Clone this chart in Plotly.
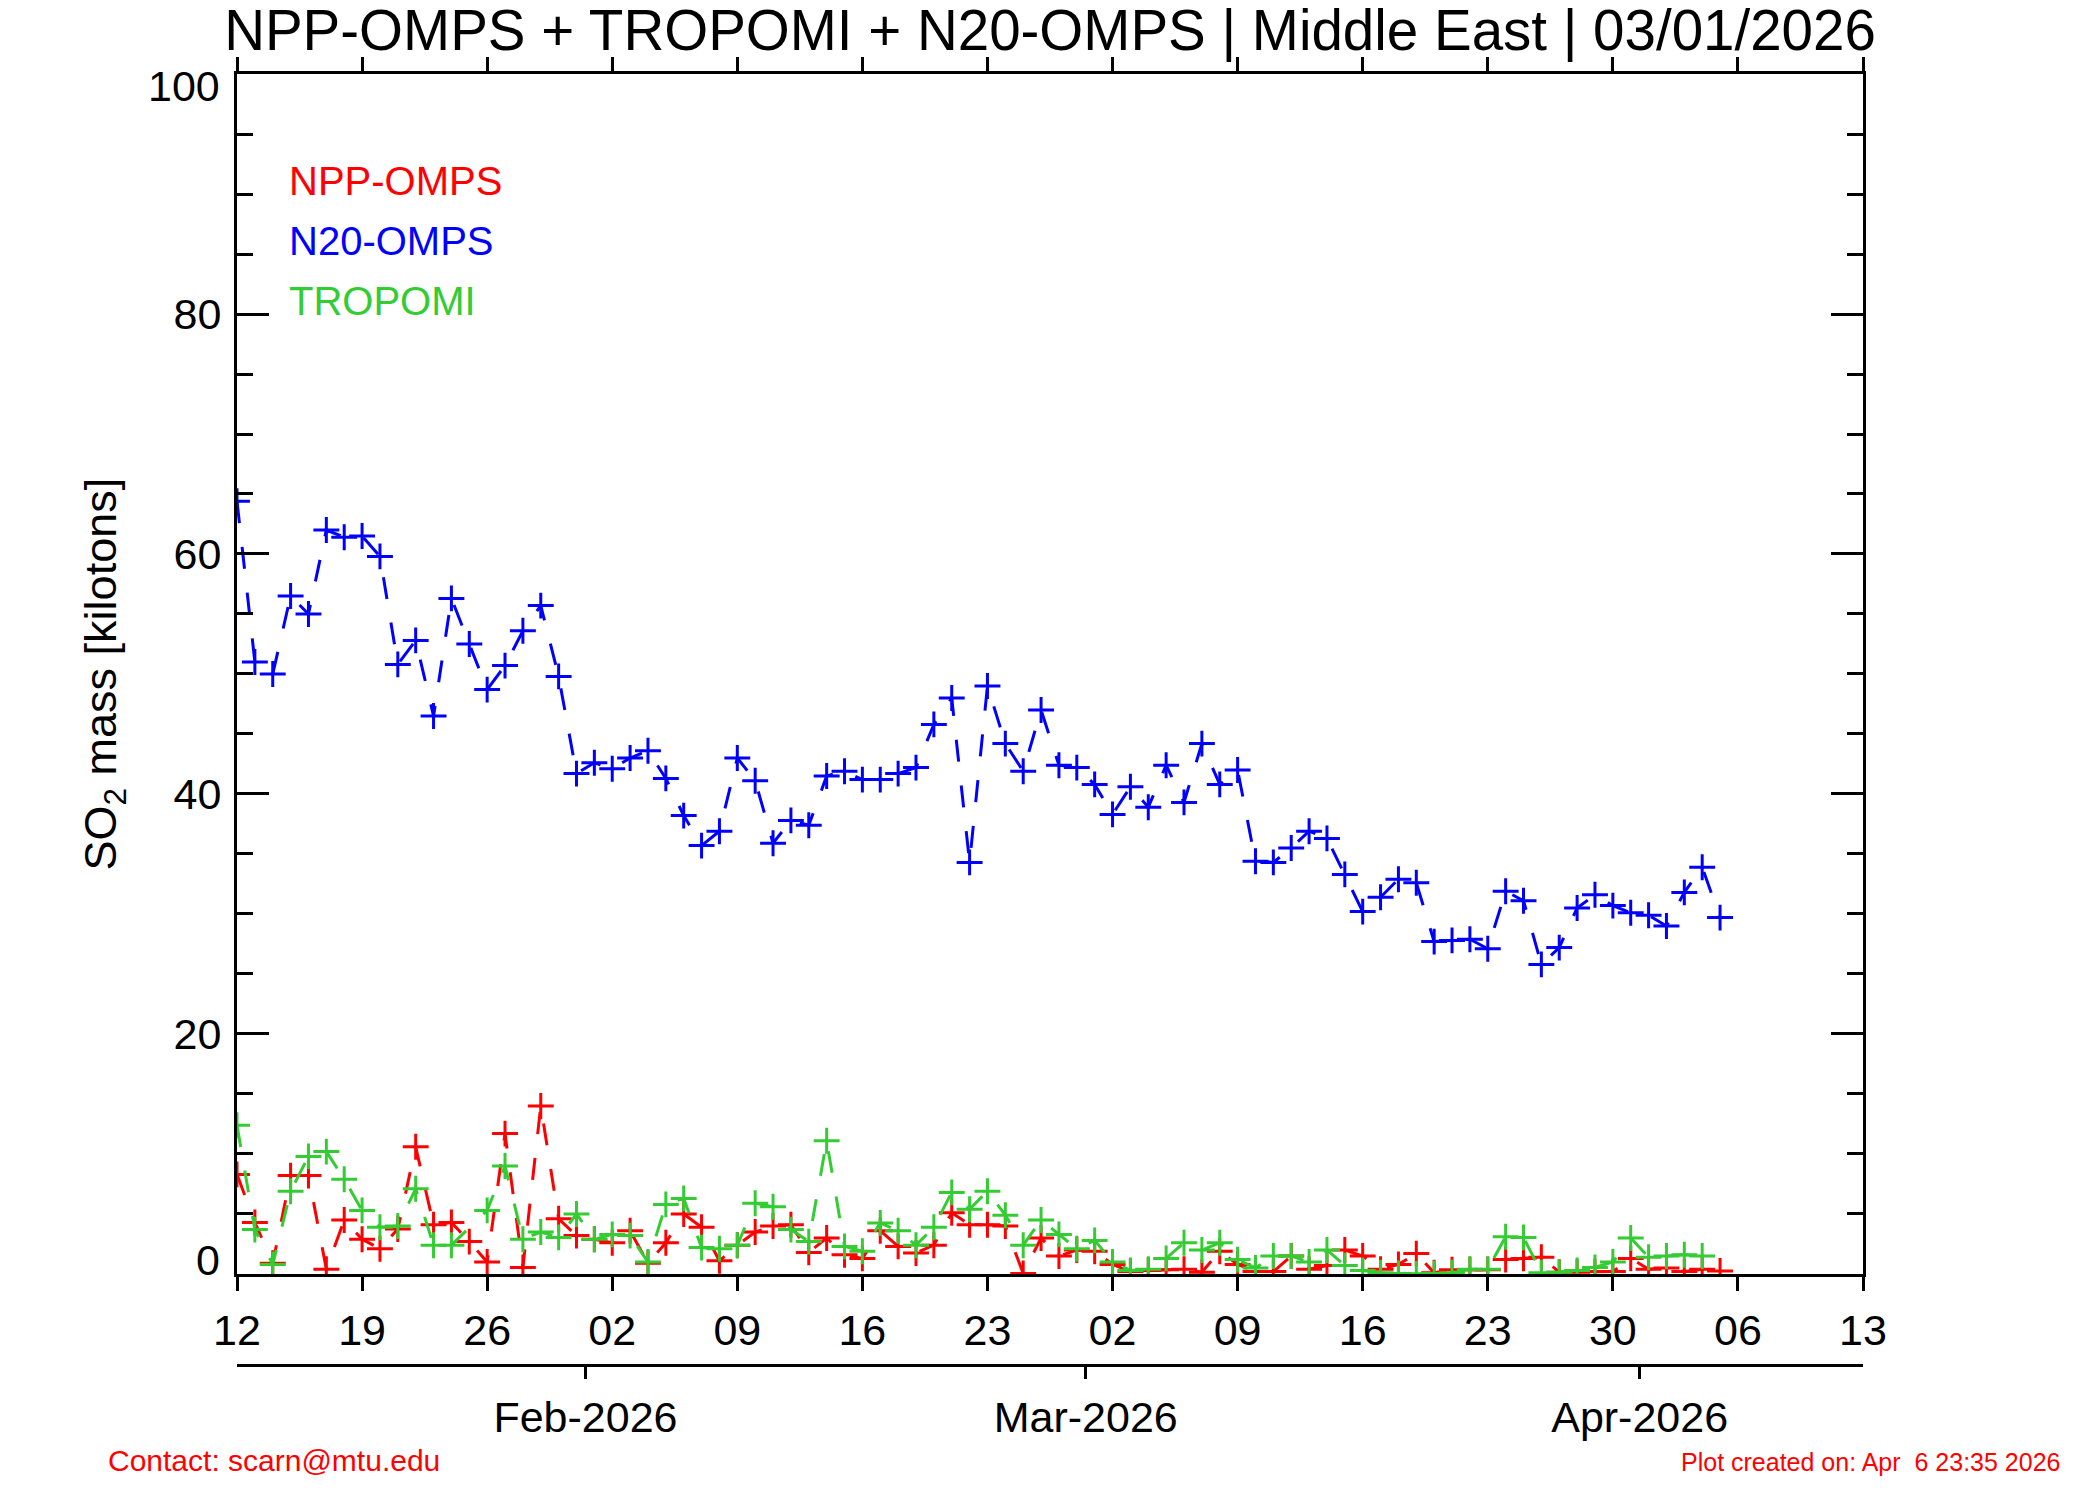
import pandas as pd
import plotly.graph_objects as go

# daily values, 12 Jan 2026 .. 05 Apr 2026 (kilotons SO2)
days = pd.date_range("2026-01-12 12:00", "2026-04-05 12:00", freq="D")

n20_omps = [64.4, 51.0, 50.0, 56.5, 55.0, 62.0, 61.4, 61.5, 59.8, 50.8,
            52.8, 46.5, 56.3, 52.5, 48.7, 50.7, 53.6, 55.7, 49.8, 41.7,
            42.6, 42.1, 43.0, 43.6, 41.3, 38.2, 35.7, 36.9, 43.0, 41.1,
            35.9, 37.8, 37.4, 41.5, 41.9, 41.2, 41.2, 41.7, 42.2, 45.8,
            48.0, 34.3, 49.0, 44.2, 41.9, 47.0, 42.4, 42.2, 40.8, 38.3,
            40.6, 38.9, 42.4, 39.3, 44.2, 40.8, 42.0, 34.4, 34.3, 35.5,
            36.9, 36.3, 33.3, 30.2, 31.4, 32.9, 32.6, 27.7, 27.8, 27.9,
            27.1, 31.9, 31.1, 25.8, 27.2, 30.5, 31.6, 30.7, 30.1, 29.9,
            29.0, 31.8, 33.9, 29.7]

npp_omps = [8.3, 4.3, 0.9, 8.2, 8.2, 0.4, 4.5, 2.9, 2.1, 3.75,
            10.6, 4.1, 4.3, 2.7, 1.0, 11.7, 0.55, 14.0, 4.6, 3.2,
            2.9, 2.6, 3.6, 0.9, 2.6, 5.0, 3.9, 1.1, 2.4, 3.5,
            4.0, 4.1, 1.8, 3.0, 1.6, 1.3, 3.6, 2.3, 1.75, 2.4,
            5.1, 4.1, 4.1, 4.0, 0.05, 3.0, 1.5, 2.0, 1.9, 0.8,
            0.2, 0.3, 0.35, 0.4, 0.15, 1.9, 0.8, 0.2, 0.2, 1.5,
            0.4, 0.7, 2.0, 1.5, 0.4, 0.8, 1.7, 0.1, 0.35, 0.35,
            0.35, 1.2, 1.3, 1.4, 0.15, 0.15, 0.2, 0.2, 1.3, 0.4,
            0.5, 0.2, 0.4, 0.25]

tropomi = [12.4, 3.7, 0.8, 6.9, 9.8, 10.2, 7.9, 5.3, 3.9, 4.0,
           7.1, 2.4, 2.4, None, 5.3, 9.0, 2.9, 3.5, 3.05, 5.0,
           2.9, 3.3, 3.2, 1.0, 5.8, 6.3, 2.2, 2.1, 2.4, 5.9,
           5.6, 3.7, 2.7, 11.1, 2.3, 1.9, 4.25, 3.6, 2.4, 3.9,
           6.8, 5.4, 6.9, 4.9, 2.4, 4.5, 3.3, 2.1, 2.8, 1.0,
           0.3, 0.4, 1.3, 2.6, 2.0, 2.6, 1.2, 0.5, 1.5, 1.5,
           1.0, 2.0, 0.7, 0.3, 0.1, 0.05, 0.0, 0.05, 0.1, 0.4,
           0.4, 3.1, 3.05, 0.1, 0.15, 0.3, 0.55, 1.0, 3.0, 1.4,
           1.5, 1.6, 1.5, None]

x_range = ["2026-01-12 12:00", "2026-04-13 12:00"]
week_ticks = pd.date_range("2026-01-12 12:00", "2026-04-13 12:00", freq="7D")
week_labels = [d.strftime("%d") for d in week_ticks]
month_ticks = ["2026-02-01", "2026-03-01", "2026-04-01"]
month_labels = ["Feb-2026", "Mar-2026", "Apr-2026"]
y_ticks = [20, 40, 60, 80]

series = [("NPP-OMPS", npp_omps, "#FF0000"),
          ("N20-OMPS", n20_omps, "#0000FF"),
          ("TROPOMI", tropomi, "#33CC33")]

FONT = "Liberation Sans, Arial, Helvetica, sans-serif"

fig = go.Figure()
for name, vals, color in series:
    fig.add_trace(go.Scatter(
        x=days, y=vals, name=name, mode="lines+markers", connectgaps=True,
        line=dict(color=color, width=3, dash="22px,24px"),
        marker=dict(symbol="cross-thin", size=18.5, color=color,
                    line=dict(color=color, width=3)),
    ))

# empty trace so the month axis underneath gets drawn
fig.add_trace(go.Scatter(x=days, y=n20_omps, xaxis="x2", yaxis="y", mode="none",
                         hoverinfo="skip", showlegend=False))

# legend as coloured text
for i, (name, vals, color) in enumerate(series):
    fig.add_annotation(text=name, xref="paper", yref="paper",
                       x=0.031, y=0.917 - i * 0.0466, xanchor="left", yanchor="middle",
                       showarrow=False, font=dict(size=40, color=color, family=FONT))

# end labels of the y axis sit inside the axis span
fig.add_annotation(text="0", xref="paper", yref="y", x=-0.009, y=0, yshift=14,
                   xanchor="right", yanchor="middle", showarrow=False,
                   font=dict(size=43, family=FONT))
fig.add_annotation(text="100", xref="paper", yref="y", x=-0.009, y=100, yshift=-12,
                   xanchor="right", yanchor="middle", showarrow=False,
                   font=dict(size=43, family=FONT))

fig.add_annotation(text="SO<sub>2</sub> mass [kilotons]", xref="paper", yref="y",
                   x=-0.0815, y=50, textangle=-90, xanchor="center", yanchor="middle",
                   showarrow=False, font=dict(size=45, family=FONT))

fig.add_annotation(text="Contact: scarn@mtu.edu", xref="paper", yref="paper",
                   x=-0.0805, y=-0.074, xanchor="left", yanchor="middle",
                   showarrow=False, font=dict(size=30, color="#FF0000", family=FONT))
fig.add_annotation(text="Plot created on: Apr\u00a0 6 23:35 2026", xref="paper", yref="paper",
                   x=1.1225, y=-0.075, xanchor="right", yanchor="middle",
                   showarrow=False, font=dict(size=25, color="#FF0000", family=FONT))

axis_common = dict(showgrid=False, zeroline=False, showline=True, linewidth=3,
                   linecolor="black", tickcolor="black", tickwidth=3)

fig.update_layout(
    width=2100, height=1500,
    margin=dict(l=237, r=237, t=74, b=135, pad=0),
    paper_bgcolor="white", plot_bgcolor="white",
    font=dict(family=FONT, color="black", size=43),
    showlegend=False,
    title=dict(text="NPP-OMPS + TROPOMI + N20-OMPS | Middle East | 03/01/2026",
               x=0.5, xref="paper", xanchor="center",
               y=0.980, yref="container", yanchor="middle",
               font=dict(size=56.5, color="black", family=FONT)),
    xaxis=dict(type="date", range=x_range, tickmode="array", tickvals=week_ticks,
               ticktext=week_labels, ticks="outside", ticklen=14, mirror="ticks",
               anchor="y", ticklabelstandoff=2, **axis_common),
    xaxis2=dict(type="date", range=x_range, overlaying="x", anchor="free", position=0,
                side="bottom", tickmode="array", tickvals=month_ticks, ticktext=month_labels,
                ticks="outside", ticklen=12, ticklabelstandoff=1, **axis_common),
    yaxis=dict(domain=[0.0705, 1], range=[0, 100], tickmode="array", tickvals=y_ticks,
               ticktext=[str(v) for v in y_ticks],
               ticks="inside", ticklen=32, mirror="ticks", ticklabelstandoff=4,
               minor=dict(dtick=5, tick0=0, ticks="inside", ticklen=16, tickwidth=3,
                          tickcolor="black"),
               **axis_common),
)

fig.write_html("out.html", config={"displayModeBar": False},
               post_script="document.body.style.margin = '0px';")
